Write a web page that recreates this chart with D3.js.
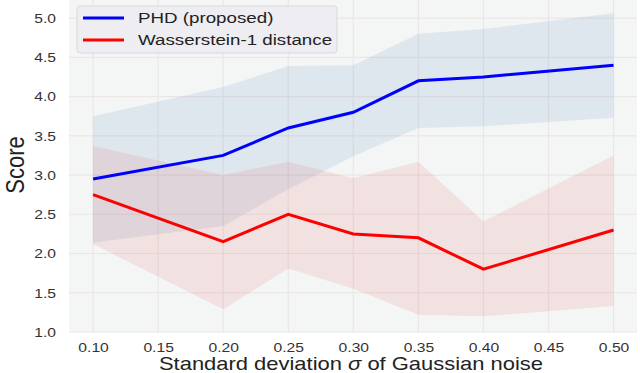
<!DOCTYPE html>
<html lang="en">
<head>
<meta charset="UTF-8">
<title>PHD vs Wasserstein-1</title>
<script src="https://cdnjs.cloudflare.com/ajax/libs/d3/7.8.5/d3.min.js"></script>
<style>
    body { margin: 0; background: #fff; font-family: "Liberation Sans", Arial, sans-serif; }
    .tick text { font-size: 13.5px; fill: #333; }
</style>
</head>
<body>
<div id="chart"></div>
<script>
// noise levels on the x axis
const sigmas = [0.10, 0.20, 0.25, 0.30, 0.35, 0.40, 0.50];

// PHD (proposed): mean and band
const phdMean  = [2.95, 3.25, 3.60, 3.80, 4.20, 4.25, 4.40];
const phdUpper = [3.75, 4.12, 4.39, 4.40, 4.80, 4.86, 5.06];
const phdLower = [2.14, 2.35, 2.82, 3.24, 3.60, 3.62, 3.73];

// Wasserstein-1 distance: mean and band
const wMean  = [2.75, 2.15, 2.50, 2.25, 2.20, 1.80, 2.30];
const wUpper = [3.37, 3.00, 3.17, 2.96, 3.17, 2.41, 3.25];
const wLower = [2.12, 1.29, 1.81, 1.55, 1.22, 1.20, 1.33];

const xTicks = [0.10, 0.15, 0.20, 0.25, 0.30, 0.35, 0.40, 0.45, 0.50];
const yTicks = [1.0, 1.5, 2.0, 2.5, 3.0, 3.5, 4.0, 4.5, 5.0];

const W = 640, H = 373;
const margin = {top: 0, right: 3, bottom: 41, left: 69};
const width = W - margin.left - margin.right;
const height = H - margin.top - margin.bottom;
const stretch = 1.16; // text in the source is a little wider than normal

const svg = d3.select("#chart").append("svg")
    .attr("width", W).attr("height", H);

const g = svg.append("g")
    .attr("transform", `translate(${margin.left},${margin.top})`);

const x = d3.scaleLinear().domain([0.0815, 0.518]).range([0, width]);
const y = d3.scaleLinear().domain([1.0, 5.23]).range([height, 0]);

// plot background
g.append("rect")
    .attr("width", width).attr("height", height)
    .attr("fill", "#f4f6f6");

// grid
g.append("g").selectAll("line").data(yTicks).join("line")
    .attr("x1", 0).attr("x2", width)
    .attr("y1", d => y(d)).attr("y2", d => y(d))
    .attr("stroke", "#ebe5e6").attr("stroke-width", 1.2);
g.append("g").selectAll("line").data(xTicks).join("line")
    .attr("y1", 0).attr("y2", height)
    .attr("x1", d => x(d)).attr("x2", d => x(d))
    .attr("stroke", "#ebe5e6").attr("stroke-width", 1.2);

const bandArea = (lo, hi) => d3.area()
    .x((d, i) => x(sigmas[i]))
    .y0((d, i) => y(lo[i]))
    .y1((d, i) => y(hi[i]));

const lineGen = vals => d3.line()
    .x((d, i) => x(sigmas[i]))
    .y((d, i) => y(vals[i]));

// bands
g.append("path").datum(sigmas)
    .attr("d", bandArea(phdLower, phdUpper))
    .attr("fill", "#4a7fb5").attr("fill-opacity", 0.12);
g.append("path").datum(sigmas)
    .attr("d", bandArea(wLower, wUpper))
    .attr("fill", "#e04848").attr("fill-opacity", 0.12);

// mean lines
g.append("path").datum(sigmas)
    .attr("d", lineGen(phdMean))
    .attr("fill", "none").attr("stroke", "#0000ff").attr("stroke-width", 3);
g.append("path").datum(sigmas)
    .attr("d", lineGen(wMean))
    .attr("fill", "none").attr("stroke", "#ff0000").attr("stroke-width", 3);

// axes
const xAxis = g.append("g")
    .attr("transform", `translate(0,${height})`)
    .call(d3.axisBottom(x).tickValues(xTicks).tickFormat(d3.format(".2f")).tickSize(0).tickPadding(10));
const yAxis = g.append("g")
    .call(d3.axisLeft(y).tickValues(yTicks).tickFormat(d3.format(".1f")).tickSize(0).tickPadding(13));
xAxis.select(".domain").remove();
yAxis.select(".domain").remove();
xAxis.selectAll(".tick text").attr("transform", `scale(${stretch},1)`);
yAxis.selectAll(".tick text")
    .attr("x", -13 / stretch)
    .attr("transform", `scale(${stretch},1)`);

// axis labels
const xl = svg.append("text")
    .attr("transform", `translate(351,370) scale(1.22,1)`)
    .attr("text-anchor", "middle")
    .attr("font-size", 18).attr("fill", "#222");
xl.append("tspan").text("Standard deviation ");
xl.append("tspan").attr("font-style", "italic").text("σ");
xl.append("tspan").text(" of Gaussian noise");

svg.append("text")
    .attr("transform", `translate(24,165) scale(1.15,1) rotate(-90)`)
    .attr("text-anchor", "middle")
    .attr("font-size", 22).attr("fill", "#222")
    .text("Score");

// legend
const series = ["PHD (proposed)", "Wasserstein-1 distance"];
const colors = ["#0000ff", "#ff0000"];
const legend = svg.append("g").attr("transform", "translate(77,6)");
legend.append("rect")
    .attr("width", 260).attr("height", 47).attr("rx", 3)
    .attr("fill", "#eeedf1").attr("stroke", "#d8d8dc");
legend.selectAll("line").data(series).join("line")
    .attr("x1", 6).attr("x2", 47)
    .attr("y1", (d, i) => 12 + i * 22).attr("y2", (d, i) => 12 + i * 22)
    .attr("stroke", (d, i) => colors[i]).attr("stroke-width", 3);
legend.selectAll("text").data(series).join("text")
    .attr("transform", (d, i) => `translate(61,${12 + i * 22}) scale(1.25,1)`)
    .attr("dy", "0.35em")
    .attr("font-size", 15).attr("fill", "#222")
    .text(d => d);
</script>
</body>
</html>
